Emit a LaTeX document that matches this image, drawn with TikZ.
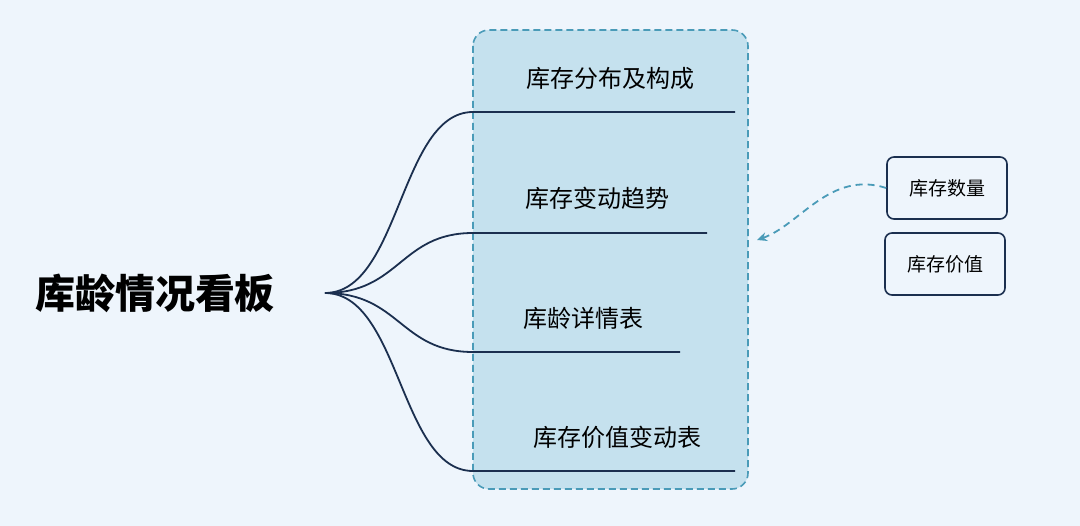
\documentclass[tikz,border=0pt]{standalone}
\usepackage{fontspec}
\setmainfont{Noto Sans CJK SC}
\usetikzlibrary{arrows.meta}
\definecolor{bgc}{HTML}{EEF5FC}
\definecolor{panelc}{HTML}{C5E1EE}
\definecolor{dashc}{HTML}{4A9BB8}
\definecolor{navyc}{HTML}{1B2F4F}
\tikzset{
  item/.style={font=\fontsize{24}{26}\selectfont, text=black, inner sep=0},
  side/.style={draw=navyc, line width=1.6pt, rounded corners=7pt, minimum width=120pt, minimum height=62pt, font=\fontsize{19}{22}\selectfont},
  branch/.style={draw=navyc, line width=1.8pt},
}
\begin{document}
\begin{tikzpicture}[x=1pt,y=-1pt]
\fill[bgc] (0,0) rectangle (1080,526);
\useasboundingbox (0,0) rectangle (1080,526);
\draw[draw=dashc, fill=panelc, dash pattern=on 7pt off 4pt, line width=1.6pt, rounded corners=16pt] (473,30) rectangle (748,489);
\node[font=\fontsize{40}{44}\selectfont\bfseries, inner sep=0] (title) at (155,293) {库龄情况看板};
\coordinate (root) at (325,293);
\node[item] (i1) at (610,78) {库存分布及构成};
\node[item] (i2) at (597,198) {库存变动趋势};
\node[item] (i3) at (583,318) {库龄详情表};
\node[item] (i4) at (617,437) {库存价值变动表};
\coordinate (a1) at (473,112); \coordinate (b1) at (735,112);
\coordinate (a2) at (473,233); \coordinate (b2) at (707,233);
\coordinate (a3) at (473,352); \coordinate (b3) at (680,352);
\coordinate (a4) at (473,471); \coordinate (b4) at (735,471);
\foreach \k/\yy in {1/112,2/233,3/352,4/471}{
  \draw[branch] (root) .. controls (400,293) and (400,\yy) .. (a\k) -- (b\k);
}
\node[side] (s1) at (947,188) {库存数量};
\node[side] (s2) at (945,264) {库存价值};
\coordinate (tip) at (757,240);
\draw[draw=dashc, line width=1.8pt, dash pattern=on 7pt off 5pt, -{Stealth[length=10pt,width=9pt]}] (s1.west) .. controls (830,170) and (800,225) .. (tip);
\end{tikzpicture}
\end{document}
